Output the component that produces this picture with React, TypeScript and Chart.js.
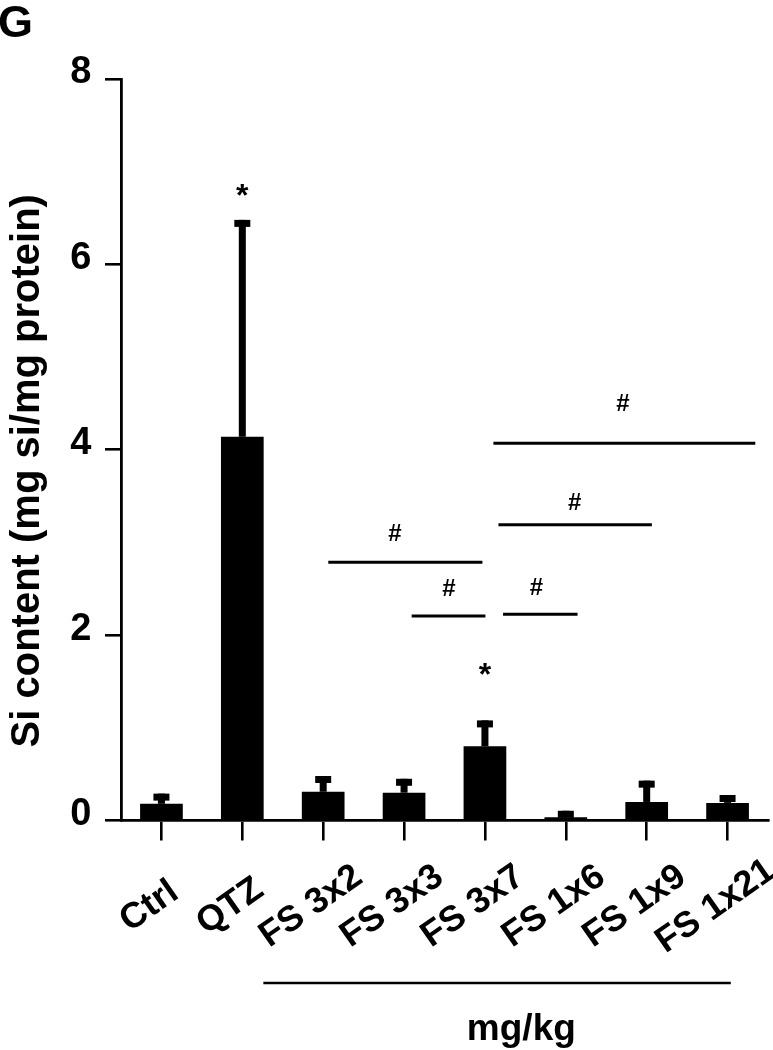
import React, { useEffect, useRef } from 'react';
import { Chart, registerables } from 'chart.js';

Chart.register(...registerables);

// ---- data ----
const categories = ['Ctrl', 'QTZ', 'FS 3x2', 'FS 3x3', 'FS 3x7', 'FS 1x6', 'FS 1x9', 'FS 1x21'];
const siMeans = [0.18, 4.14, 0.31, 0.3, 0.8, 0.035, 0.2, 0.19];
const siErrors = [0.11, 2.34, 0.17, 0.15, 0.28, 0.07, 0.23, 0.085];
const yTickValues = [0, 2, 4, 6, 8];

// significance marks (category index / data value)
const starIndex = [1, 4];
const starValue = [6.83, 1.66];
const bracketStart = [4.105, 4.167, 2.063, 3.094, 4.224];
const bracketEnd = [7.343, 6.064, 3.969, 4.006, 5.145];
const bracketValue = [4.07, 3.19, 2.785, 2.206, 2.224];
const hashIndex = [5.705, 5.11, 2.887, 3.556, 4.637];
const hashValue = [4.51, 3.44, 3.11, 2.51, 2.52];

// dose group bracket under the axis (category index)
const groupStart = 1.26;
const groupEnd = 7.04;
const groupLabelIndex = 4.45;
const groupLabel = 'mg/kg';

const panelLabel = 'G';
const yTitle = 'Si content (mg si/mg protein)';

const FONT = "'Liberation Sans', Arial, Helvetica, sans-serif";

const annotations = {
  id: 'annotations',
  afterDatasetsDraw(chart: any) {
    const ctx = chart.ctx;
    const y = chart.scales.y;
    const meta = chart.getDatasetMeta(0);
    ctx.save();
    ctx.fillStyle = '#000';
    // error bars (upper only)
    siMeans.forEach((m, i) => {
      const px = meta.data[i].x;
      const yTop = y.getPixelForValue(m + siErrors[i]);
      const yBar = y.getPixelForValue(m);
      ctx.fillRect(px - 3.5, yTop, 7, yBar - yTop);
      ctx.fillRect(px - 8, yTop, 16, 7);
    });
    ctx.restore();
  },
  afterDraw(chart: any) {
    const ctx = chart.ctx;
    const x = chart.scales.x;
    const y = chart.scales.y;
    const area = chart.chartArea;
    const x0 = x.getPixelForValue(0);
    const step = x.getPixelForValue(1) - x0;
    const xp = (v: number) => x0 + v * step;
    ctx.save();
    ctx.fillStyle = '#000';
    ctx.strokeStyle = '#000';

    // asterisks
    ctx.font = `bold 32px ${FONT}`;
    ctx.textAlign = 'center';
    ctx.textBaseline = 'alphabetic';
    starIndex.forEach((idx, k) => {
      ctx.fillText('*', xp(idx), y.getPixelForValue(starValue[k]) + 18.5);
    });

    // brackets with #
    ctx.lineWidth = 3;
    ctx.font = `bold 24px ${FONT}`;
    bracketStart.forEach((s, k) => {
      const py = y.getPixelForValue(bracketValue[k]);
      ctx.beginPath();
      ctx.moveTo(xp(s), py);
      ctx.lineTo(xp(bracketEnd[k]), py);
      ctx.stroke();
      ctx.fillText('#', xp(hashIndex[k]), y.getPixelForValue(hashValue[k]) + 8.4);
    });

    // category labels (rotated)
    ctx.font = `bold 36px ${FONT}`;
    ctx.textAlign = 'center';
    ctx.textBaseline = 'middle';
    categories.forEach((c, i) => {
      ctx.save();
      ctx.translate(x.getPixelForValue(i) - 12, area.bottom + 86);
      ctx.rotate((-35 * Math.PI) / 180);
      ctx.fillText(c, 0, 0);
      ctx.restore();
    });

    // dose group line + label
    ctx.lineWidth = 2.6;
    ctx.beginPath();
    ctx.moveTo(xp(groupStart), area.bottom + 162.5);
    ctx.lineTo(xp(groupEnd), area.bottom + 162.5);
    ctx.stroke();
    ctx.font = `bold 37px ${FONT}`;
    ctx.textBaseline = 'alphabetic';
    ctx.fillText(groupLabel, xp(groupLabelIndex), area.bottom + 219);

    // y title
    ctx.save();
    ctx.font = `bold 40px ${FONT}`;
    ctx.translate(39, (area.top + area.bottom) / 2 + 21);
    ctx.rotate(-Math.PI / 2);
    ctx.textAlign = 'center';
    ctx.textBaseline = 'alphabetic';
    ctx.fillText(yTitle, 0, 0);
    ctx.restore();

    // panel letter
    ctx.font = `bold 45px ${FONT}`;
    ctx.textAlign = 'left';
    ctx.textBaseline = 'alphabetic';
    ctx.fillText(panelLabel, -2, 37);
    ctx.restore();
  },
};

export default function App() {
  const ref = useRef<HTMLCanvasElement | null>(null);
  useEffect(() => {
    if (!ref.current) return;
    const chart = new Chart(ref.current, {
      type: 'bar',
      data: {
        labels: categories,
        datasets: [
          {
            data: siMeans,
            backgroundColor: '#000',
            borderWidth: 0,
            barPercentage: 0.528,
            categoryPercentage: 1,
          },
        ],
      },
      options: {
        responsive: false,
        animation: false,
        devicePixelRatio: 1,
        layout: { padding: { top: 79, left: 0, right: 5, bottom: 0 } },
        plugins: { legend: { display: false }, tooltip: { enabled: false }, title: { display: false } },
        scales: {
          x: {
            type: 'category',
            offset: true,
            grid: {
              display: true,
              drawOnChartArea: false,
              drawTicks: true,
              tickLength: 20,
              color: '#000',
              lineWidth: 2.6,
              offset: false,
            },
            border: { display: true, color: '#000', width: 2.8 },
            ticks: { display: false },
            afterFit: (scale: any) => {
              scale.height = 229.5;
            },
          },
          y: {
            min: 0,
            max: 8,
            afterBuildTicks: (scale: any) => {
              scale.ticks = yTickValues.map((v) => ({ value: v }));
            },
            grid: {
              display: true,
              drawOnChartArea: false,
              drawTicks: true,
              tickLength: 16,
              color: '#000',
              lineWidth: 2.6,
            },
            border: { display: true, color: '#000', width: 2.8 },
            ticks: {
              color: '#000',
              padding: 13.5,
              labelOffset: -6,
              font: { family: FONT, size: 38, weight: 'bold' },
            },
            afterFit: (scale: any) => {
              scale.width = 121;
            },
          },
        },
      },
      plugins: [annotations],
    });
    return () => chart.destroy();
  }, []);
  return (
    <div style={{ position: 'fixed', left: 0, top: 0, width: 773, height: 1050, background: '#fff' }}>
      <canvas ref={ref} width={773} height={1050} style={{ display: 'block' }} />
    </div>
  );
}
